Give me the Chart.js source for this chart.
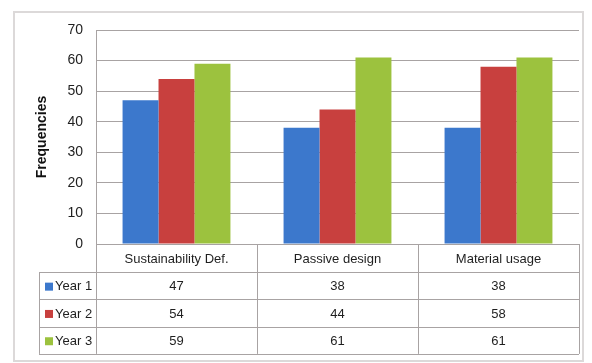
<!DOCTYPE html>
<html>
<head>
<meta charset="utf-8">
<script src="https://cdn.jsdelivr.net/npm/chart.js@4"></script>
<style>
  html, body { margin: 0; padding: 0; background: #fff; }
  #wrap { width: 592px; height: 363px; }
</style>
</head>
<body>
<div id="wrap"><canvas id="myChart" width="592" height="363"></canvas></div>
<script>
const categories = ['Sustainability Def.', 'Passive design', 'Material usage'];
const seriesNames = ['Year 1', 'Year 2', 'Year 3'];
const year1 = [47, 38, 38];
const year2 = [54, 44, 58];
const year3 = [59, 61, 61];
const yTicks = [0, 10, 20, 30, 40, 50, 60, 70];

const colors = ['#3c78cc', '#c8403e', '#9cc23e'];
const tableFont = '13px "Liberation Sans", Arial, sans-serif';
const lineColor = '#a8a3a3';

// frame around the whole chart plus the data table under the plot
const tablePlugin = {
  id: 'dataTable',
  beforeDraw(chart) {
    const ctx = chart.ctx;
    ctx.save();
    ctx.fillStyle = '#fff';
    ctx.fillRect(0, 0, chart.width, chart.height);
    ctx.strokeStyle = '#dcd9d9';
    ctx.lineWidth = 2;
    ctx.strokeRect(14, 12, 569, 349);
    ctx.restore();
  },
  afterDraw(chart) {
    const ctx = chart.ctx;
    const area = chart.chartArea;
    const x = chart.scales.x;
    const rows = [year1, year2, year3];
    const headerH = 28;
    const rowH = 27.3;
    const top = area.bottom;
    const bottom = top + headerH + rowH * rows.length;
    const half = (area.right - area.left) / categories.length / 2;
    const legendLeft = 39;

    ctx.save();
    ctx.strokeStyle = lineColor;
    ctx.lineWidth = 1;
    ctx.beginPath();
    // horizontal lines
    ctx.moveTo(area.left, top + 0.5);
    ctx.lineTo(area.right, top + 0.5);
    for (let r = 0; r <= rows.length; r++) {
      const y = Math.round(top + headerH + rowH * r) + 0.5;
      ctx.moveTo(legendLeft, y);
      ctx.lineTo(area.right, y);
    }
    // vertical lines
    ctx.moveTo(legendLeft + 0.5, top + headerH);
    ctx.lineTo(legendLeft + 0.5, bottom);
    for (let i = 0; i <= categories.length; i++) {
      const xx = Math.round(area.left + half * 2 * i) + 0.5;
      ctx.moveTo(xx, top);
      ctx.lineTo(xx, bottom);
    }
    ctx.stroke();

    ctx.font = tableFont;
    ctx.fillStyle = '#1f1f1f';
    ctx.textAlign = 'center';
    ctx.textBaseline = 'middle';
    categories.forEach((c, i) => {
      ctx.fillText(c, x.getPixelForValue(i), top + headerH / 2 + 1);
    });
    rows.forEach((vals, r) => {
      const cy = top + headerH + rowH * r + rowH / 2 + 1;
      vals.forEach((v, i) => {
        ctx.fillText(String(v), x.getPixelForValue(i), cy);
      });
      ctx.fillStyle = colors[r];
      ctx.fillRect(legendLeft + 6, cy - 4, 8, 8);
      ctx.fillStyle = '#1f1f1f';
      ctx.textAlign = 'left';
      ctx.fillText(seriesNames[r], legendLeft + 16, cy);
      ctx.textAlign = 'center';
    });
    ctx.restore();
  }
};

new Chart(document.getElementById('myChart'), {
  type: 'bar',
  data: {
    labels: categories,
    datasets: [
      { label: seriesNames[0], data: year1, backgroundColor: colors[0] },
      { label: seriesNames[1], data: year2, backgroundColor: colors[1] },
      { label: seriesNames[2], data: year3, backgroundColor: colors[2] }
    ]
  },
  options: {
    responsive: false,
    animation: false,
    layout: { padding: { left: 14, top: 30, right: 13, bottom: 119 } },
    datasets: {
      bar: { categoryPercentage: 0.67, barPercentage: 1.0, borderWidth: 0 }
    },
    plugins: {
      legend: { display: false },
      tooltip: { enabled: false }
    },
    scales: {
      x: { display: false },
      y: {
        min: 0,
        max: 70,
        afterFit(scale) { scale.width = 82; },
        afterBuildTicks(scale) { scale.ticks = yTicks.map(v => ({ value: v })); },
        ticks: {
          padding: 13,
          color: '#1f1f1f',
          font: { family: '"Liberation Sans", Arial, sans-serif', size: 14 }
        },
        grid: { color: lineColor, drawTicks: false },
        border: { color: lineColor },
        title: {
          display: true,
          text: 'Frequencies',
          color: '#111',
          padding: { top: 20 },
          font: { family: '"Liberation Sans", Arial, sans-serif', size: 14, weight: 'bold' }
        }
      }
    }
  },
  plugins: [tablePlugin]
});
</script>
</body>
</html>
